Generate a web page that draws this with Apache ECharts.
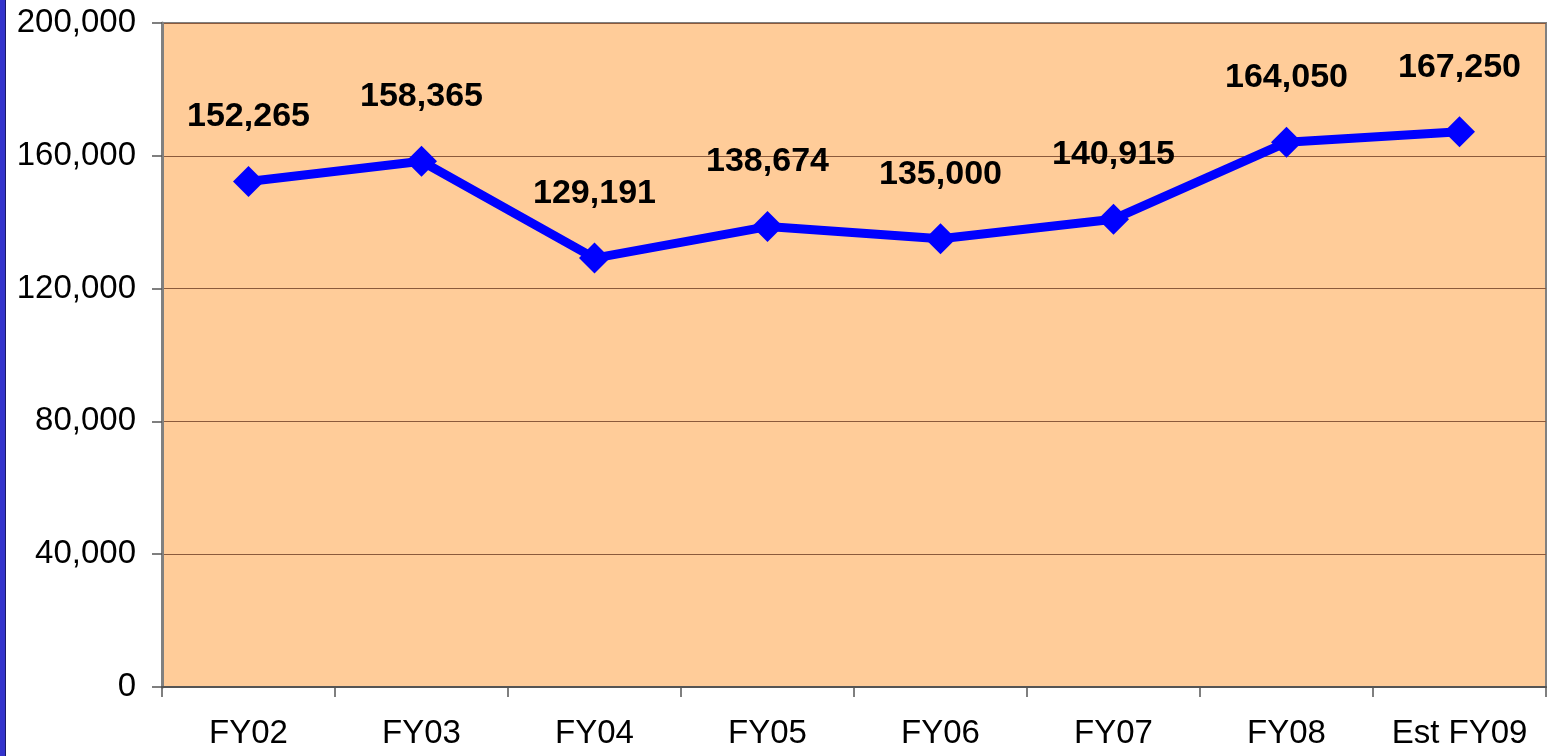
<!DOCTYPE html>
<html><head><meta charset="utf-8">
<script src="https://cdn.jsdelivr.net/npm/echarts@6/dist/echarts.min.js"></script>
<style>html,body{margin:0;padding:0;background:#fff}#c{width:1547px;height:756px}</style>
</head><body><div id="c"></div>
<script>
const categories = ["FY02","FY03","FY04","FY05","FY06","FY07","FY08","Est FY09"];
const values = [152265,158365,129191,138674,135000,140915,164050,167250];
const yTicks = [0,40000,80000,120000,160000,200000];

const chart = echarts.init(document.getElementById('c'));
chart.setOption({
  animation:false,
  graphic:[
    {type:'rect',left:0,top:0,shape:{width:5,height:756},style:{fill:'#3333CC'}},
    {type:'rect',left:5,top:0,shape:{width:1,height:756},style:{fill:'#1a1a66'}}
  ],
  grid:{left:162,right:1,top:23,bottom:69,show:true,backgroundColor:'#FFCC99',borderColor:'#808080',borderWidth:2},
  xAxis:{type:'category',data:categories,boundaryGap:true,
    axisLine:{lineStyle:{color:'#555',width:2}},
    axisTick:{show:true,interval:0,length:10,lineStyle:{color:'#555',width:1.5}},
    axisLabel:{interval:0,color:'#000',fontFamily:'Liberation Sans, Arial',fontSize:33,margin:30}},
  yAxis:{type:'value',min:yTicks[0],max:yTicks[yTicks.length-1],interval:40000,
    axisLine:{show:true,lineStyle:{color:'#808080',width:3}},
    axisTick:{show:true,length:10,lineStyle:{color:'#555',width:1.5}},
    splitLine:{lineStyle:{color:'#8B5A3C',width:1}},
    axisLabel:{color:'#000',fontFamily:'Liberation Sans, Arial',fontSize:33,margin:26,
      formatter:v=>v.toLocaleString('en-US')}},
  series:[{type:'line',data:values,symbol:'diamond',symbolSize:31,
    lineStyle:{color:'#0000FF',width:9},itemStyle:{color:'#0000FF'},
    label:{show:true,position:'top',distance:32,color:'#000',fontWeight:'bold',
      fontFamily:'Liberation Sans, Arial',fontSize:34,
      formatter:p=>p.value.toLocaleString('en-US')}}]
});
</script></body></html>
